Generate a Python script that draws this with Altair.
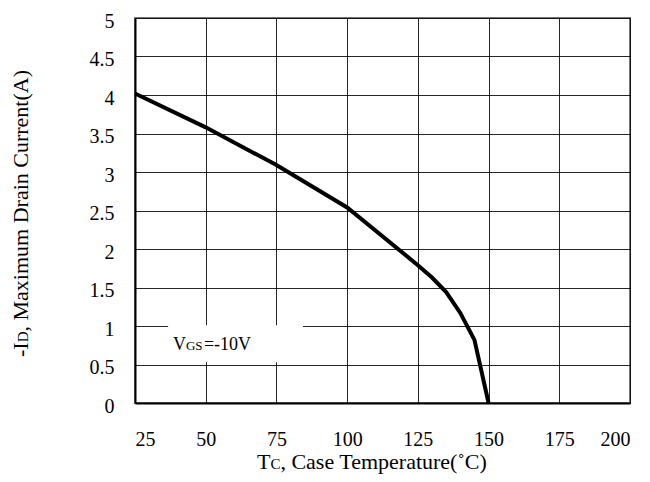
import altair as alt
import pandas as pd

# Data
temp = [25, 50, 75, 100, 125, 130, 135, 140, 145, 150]
current = [4.02, 3.58, 3.09, 2.54, 1.79, 1.63, 1.44, 1.17, 0.82, 0.0]
x_ticks = [25, 50, 75, 100, 125, 150, 175, 200]
y_ticks = [0, 0.5, 1, 1.5, 2, 2.5, 3, 3.5, 4, 4.5, 5]

# annotation box (data units) and label anchor
box_t = [36.7, 84.4]
box_i = [0.53, 1.01]
label_t = [38.4]
label_i = [0.69]

FONT = "Liberation Serif"

df = pd.DataFrame({"t": temp, "i": current})
box_df = pd.DataFrame({"t": [box_t[0]], "t2": [box_t[1]], "i": [box_i[0]], "i2": [box_i[1]]})
lab_df = pd.DataFrame({"t": label_t, "i": label_i})
dummy = pd.DataFrame({"a": [0]})

xs = alt.Scale(domain=[25, 200], nice=False, zero=False)
ys = alt.Scale(domain=[0, 5], nice=False)
xax = alt.Axis(values=x_ticks, title=None, grid=True, labelPadding=26, labelExpr="datum.value")
yax = alt.Axis(values=y_ticks, title=None, grid=True, labelPadding=21, labelOffset=3, labelExpr="datum.value")

line = alt.Chart(df).mark_line(color="black", strokeWidth=4).encode(
    x=alt.X("t:Q", scale=xs, axis=xax),
    y=alt.Y("i:Q", scale=ys, axis=yax),
)

box = alt.Chart(box_df).mark_rect(color="white").encode(
    x=alt.X("t:Q", scale=xs, axis=xax), x2="t2:Q",
    y=alt.Y("i:Q", scale=ys, axis=yax), y2="i2:Q",
)

def lab(text, size, dx):
    return alt.Chart(lab_df).mark_text(
        text=text, font=FONT, fontSize=size, align="left", baseline="alphabetic", dx=dx, color="black"
    ).encode(x=alt.X("t:Q", scale=xs, axis=xax), y=alt.Y("i:Q", scale=ys, axis=yax))

v1 = lab("V", 18, 0)
v2 = lab("GS", 13, 13)
v3 = lab("=-10V", 18, 31)

def title_piece(text, size, x, y, dx, angle=0):
    return alt.Chart(dummy).mark_text(
        text=text, font=FONT, fontSize=size, align="left", baseline="alphabetic",
        dx=dx, angle=angle, color="black"
    ).encode(x=alt.value(x), y=alt.value(y))

# x title: "TC, Case Temperature(°C)" with small C
xt1 = title_piece("T", 22, 122, 451, 0)
xt2 = title_piece("C", 15, 122, 451, 13.4)
xt3 = title_piece(", Case Temperature(\u02daC)", 22, 122, 451, 23.4)

# y title rotated
yt1 = title_piece("-I", 22, -107, 339, 0, 270)
yt2 = title_piece("D", 15, -107, 339, 14.7, 270)
yt3 = title_piece(", Maximum Drain Current(A)", 22, -107, 339, 25.5, 270)

chart = alt.layer(box, line, v1, v2, v3, xt1, xt2, xt3, yt1, yt2, yt3).properties(
    width=495, height=385,
    autosize=alt.AutoSizeParams(type="none"),
    padding={"left": 127, "top": 10, "right": 12, "bottom": 71},
).configure_view(
    stroke="#777", strokeWidth=2
).configure_axis(
    domainColor="black", domainWidth=2, ticks=False,
    gridColor="black", gridWidth=1, gridOpacity=0.85,
    labelFont=FONT, labelFontSize=20, labelColor="black",
)

chart.save("out.html", embed_options={"renderer": "svg", "actions": False})
